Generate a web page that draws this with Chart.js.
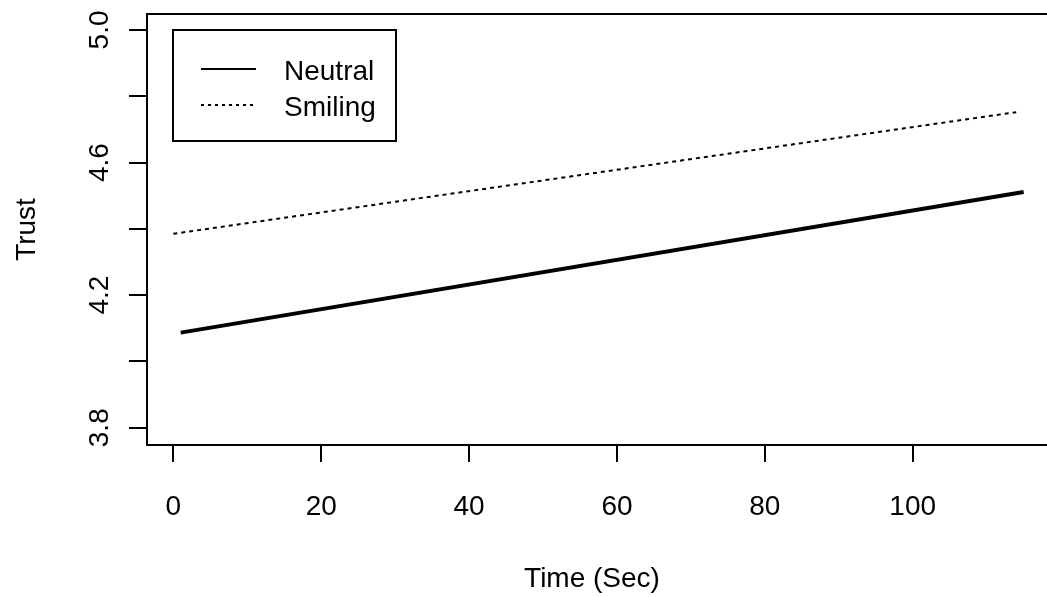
<!DOCTYPE html>
<html>
<head>
<meta charset="utf-8">
<script src="https://cdn.jsdelivr.net/npm/chart.js@4/dist/chart.umd.min.js"></script>
<style>
  html, body { margin: 0; padding: 0; background: #fff; overflow: hidden; }
  canvas { display: block; }
</style>
</head>
<body>
<canvas id="trustChart" width="1047" height="597"></canvas>
<script>
// trust ratings over time, one fitted line per face condition
const seriesNames = ["Neutral", "Smiling"];
const neutralTime = [1, 115];
const neutralTrust = [4.087, 4.511];
const smilingTime = [0, 114];
const smilingTrust = [4.385, 4.752];

const xTicks = [0, 20, 40, 60, 80, 100];
const yTicks = [3.8, 4.0, 4.2, 4.4, 4.6, 4.8, 5.0];
const yLabelled = [3.8, 4.2, 4.6, 5.0];

const FONT = '28px "Liberation Sans", Arial, sans-serif';

function toPoints(xs, ys) {
  return xs.map((x, i) => ({ x: x, y: ys[i] }));
}

// box, ticks, axis labels and legend drawn R-style
const baseAxes = {
  id: "baseAxes",
  afterDraw(chart) {
    const { ctx, chartArea: a, scales } = chart;
    const xs = scales.x, ys = scales.y;
    ctx.save();
    ctx.strokeStyle = "#000";
    ctx.fillStyle = "#000";
    ctx.lineWidth = 2;
    ctx.strokeRect(a.left, a.top, a.right - a.left + 20, a.bottom - a.top);

    ctx.beginPath();
    xTicks.forEach(v => {
      const px = Math.round(xs.getPixelForValue(v));
      ctx.moveTo(px, a.bottom);
      ctx.lineTo(px, a.bottom + 17);
    });
    yTicks.forEach(v => {
      const py = Math.round(ys.getPixelForValue(v));
      ctx.moveTo(a.left, py);
      ctx.lineTo(a.left - 18, py);
    });
    ctx.stroke();

    ctx.font = FONT;
    ctx.textAlign = "center";
    ctx.textBaseline = "alphabetic";
    xTicks.forEach(v => {
      ctx.fillText(String(v), xs.getPixelForValue(v), 515);
    });
    yLabelled.forEach(v => {
      ctx.save();
      ctx.translate(108, ys.getPixelForValue(v));
      ctx.rotate(-Math.PI / 2);
      ctx.fillText(v.toFixed(1), 0, 0);
      ctx.restore();
    });

    ctx.fillText("Time (Sec)", 592, 587);
    ctx.save();
    ctx.translate(35, (a.top + a.bottom) / 2);
    ctx.rotate(-Math.PI / 2);
    ctx.fillText("Trust", 0, 0);
    ctx.restore();

    // legend
    ctx.lineWidth = 2;
    ctx.strokeRect(173, 30, 223, 111);
    ctx.textAlign = "left";
    const rows = [69, 105];
    chart.data.datasets.forEach((ds, i) => {
      ctx.beginPath();
      ctx.setLineDash(ds.borderDash.length ? [3, 4] : []);
      ctx.moveTo(201, rows[i]);
      ctx.lineTo(256, rows[i]);
      ctx.stroke();
      ctx.setLineDash([]);
      ctx.fillText(ds.label, 284, rows[i] + 11);
    });
    ctx.restore();
  }
};

new Chart(document.getElementById("trustChart"), {
  type: "line",
  data: {
    datasets: [
      {
        label: seriesNames[0],
        data: toPoints(neutralTime, neutralTrust),
        borderColor: "#000",
        borderWidth: 4,
        borderDash: [],
        pointRadius: 0
      },
      {
        label: seriesNames[1],
        data: toPoints(smilingTime, smilingTrust),
        borderColor: "#000",
        borderWidth: 2,
        borderDash: [4, 4],
        pointRadius: 0
      }
    ]
  },
  options: {
    responsive: false,
    animation: false,
    layout: { padding: { top: 14, left: 0, right: 0, bottom: 0 } },
    plugins: { legend: { display: false }, tooltip: { enabled: false } },
    scales: {
      x: {
        type: "linear",
        min: -3.56,
        max: 118.16,
        grid: { display: false },
        border: { display: false },
        ticks: { display: false },
        afterFit(s) { s.height = 152; }
      },
      y: {
        type: "linear",
        min: 3.748,
        max: 5.048,
        grid: { display: false },
        border: { display: false },
        ticks: { display: false },
        afterFit(s) { s.width = 147; }
      }
    }
  },
  plugins: [baseAxes]
});
</script>
</body>
</html>
